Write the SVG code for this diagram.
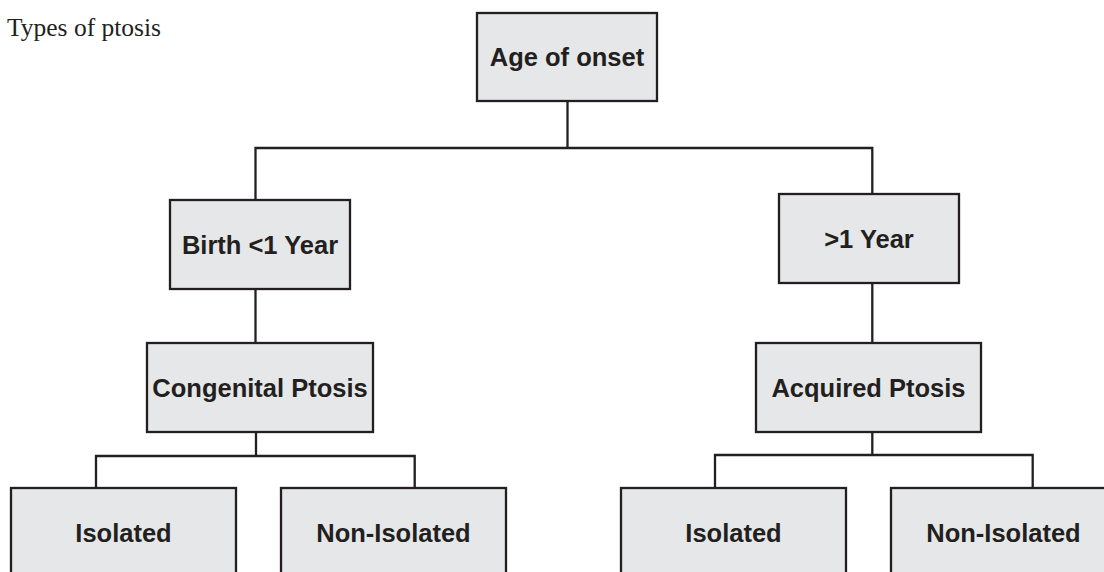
<svg xmlns="http://www.w3.org/2000/svg" width="1104" height="572" viewBox="0 0 1104 572">
<style>
.box{fill:#e6e7e8;stroke:#231f20;stroke-width:2.3}
.lbl{font-family:"Liberation Sans",Arial,sans-serif;font-weight:bold;font-size:25.5px;fill:#231f20;text-anchor:middle}
.title{font-family:"Liberation Serif","Times New Roman",serif;font-size:25.5px;fill:#231f20}
.conn{fill:none;stroke:#231f20;stroke-width:2.3}
</style>
<rect width="1104" height="572" fill="#ffffff"/>
<text class="title" x="7" y="35.5">Types of ptosis</text>
<g id="connectors">
<path class="conn" d="M567.5 101 V148 M255.5 200 V148 H872.3 V194"/>
<path class="conn" d="M255.5 289 V343"/>
<path class="conn" d="M872.3 283 V343"/>
<path class="conn" d="M256 432 V456 M96 488 V456 H414.7 V488"/>
<path class="conn" d="M872.3 432 V455 M715 488 V455 H1032.7 V488"/>
</g>
<g id="age-of-onset">
<rect class="box" x="477" y="13" width="180" height="88"/>
<text class="lbl" x="567" y="66">Age of onset</text>
</g>
<g id="birth">
<rect class="box" x="170" y="200" width="180" height="89"/>
<text class="lbl" x="260" y="253.5">Birth &lt;1 Year</text>
</g>
<g id="over-1-year">
<rect class="box" x="779" y="194" width="180" height="89"/>
<text class="lbl" x="869" y="247.5">&gt;1 Year</text>
</g>
<g id="congenital">
<rect class="box" x="147" y="343" width="226" height="89"/>
<text class="lbl" x="260" y="397">Congenital Ptosis</text>
</g>
<g id="acquired">
<rect class="box" x="756" y="343" width="225" height="89"/>
<text class="lbl" x="868.5" y="397">Acquired Ptosis</text>
</g>
<g id="isolated-left">
<rect class="box" x="11" y="488" width="225" height="110"/>
<text class="lbl" x="123.5" y="542">Isolated</text>
</g>
<g id="non-isolated-left">
<rect class="box" x="281" y="488" width="225" height="110"/>
<text class="lbl" x="393.5" y="542">Non-Isolated</text>
</g>
<g id="isolated-right">
<rect class="box" x="621" y="488" width="225" height="110"/>
<text class="lbl" x="733.5" y="542">Isolated</text>
</g>
<g id="non-isolated-right">
<rect class="box" x="891" y="488" width="225" height="110"/>
<text class="lbl" x="1003.5" y="542">Non-Isolated</text>
</g>
</svg>
